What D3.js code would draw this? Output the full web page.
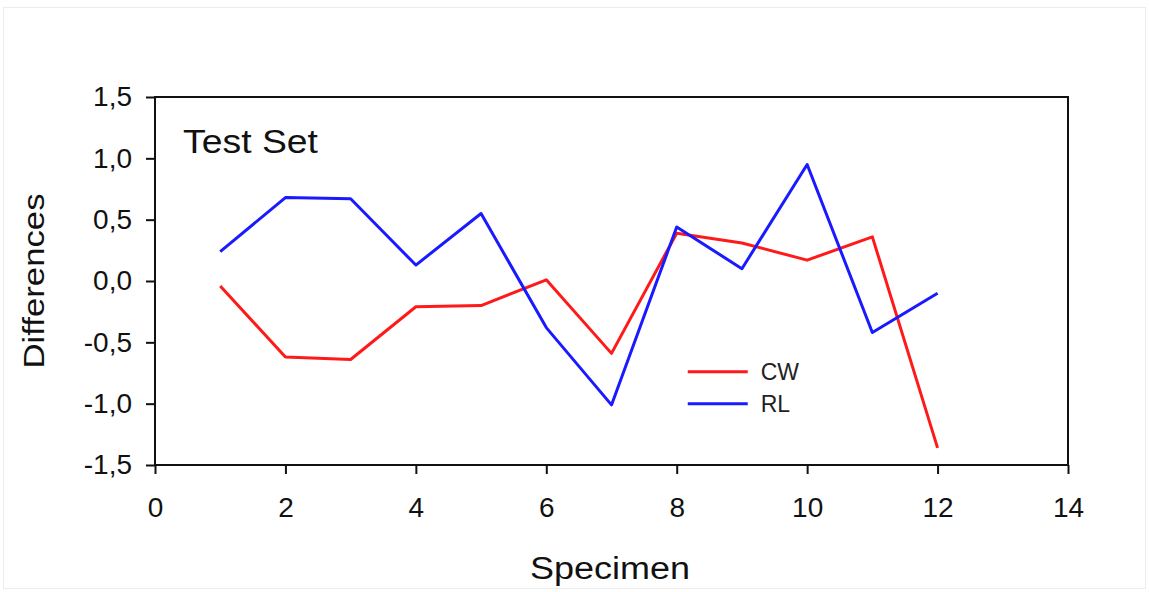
<!DOCTYPE html>
<html>
<head>
<meta charset="utf-8">
<script src="https://cdn.jsdelivr.net/npm/d3@7"></script>
<style>
  body { margin: 0; background: #fff; }
  svg text { font-family: "Liberation Sans", Arial, sans-serif; fill: #111; }
  .axis path, .axis line { stroke: #111; stroke-width: 2; }
</style>
</head>
<body>
<div id="chart"></div>
<script>
var specimens = [1, 2, 3, 4, 5, 6, 7, 8, 9, 10, 11, 12];
var cwValues = [-0.04, -0.62, -0.64, -0.21, -0.20, 0.01, -0.59, 0.39, 0.31, 0.17, 0.36, -1.36];
var rlValues = [0.24, 0.68, 0.67, 0.13, 0.55, -0.38, -1.01, 0.44, 0.10, 0.95, -0.42, -0.10];
var xTicks = [0, 2, 4, 6, 8, 10, 12, 14];
var yTicks = [-1.5, -1.0, -0.5, 0.0, 0.5, 1.0, 1.5];
var seriesNames = ["CW", "RL"];
var seriesColors = ["#ff1a1a", "#1a1aff"];

var width = 1149, height = 592;
var margin = {top: 97, right: 81, bottom: 127, left: 155};
var innerW = width - margin.left - margin.right,
    innerH = height - margin.top - margin.bottom;

var locale = d3.formatLocale({decimal: ",", thousands: ".", grouping: [3], currency: ["", ""], minus: "-"});
var fmt1 = locale.format(".1f");

var svg = d3.select("#chart").append("svg")
    .attr("width", width)
    .attr("height", height);

// faint border of the original picture
svg.append("rect")
    .attr("x", 3.5).attr("y", 7.5)
    .attr("width", width - 7).attr("height", height - 11)
    .attr("fill", "none")
    .attr("stroke", "#ececec");

var g = svg.append("g")
    .attr("transform", "translate(" + margin.left + "," + margin.top + ")");

var x = d3.scaleLinear().domain([0, 14]).range([0, innerW]);
var y = d3.scaleLinear().domain([-1.5, 1.5]).range([innerH, 0]);

// frame
g.append("rect")
    .attr("width", innerW).attr("height", innerH)
    .attr("fill", "none")
    .attr("stroke", "#111")
    .attr("stroke-width", 2);

var xAxis = g.append("g")
    .attr("class", "axis")
    .attr("transform", "translate(0," + innerH + ")")
    .call(d3.axisBottom(x).tickValues(xTicks).tickSize(9).tickPadding(23).tickSizeOuter(0));
xAxis.select(".domain").remove();
xAxis.selectAll("text").style("font-size", "28px");

var yAxis = g.append("g")
    .attr("class", "axis")
    .call(d3.axisLeft(y).tickValues(yTicks).tickSize(9).tickPadding(14).tickFormat(fmt1).tickSizeOuter(0));
yAxis.select(".domain").remove();
yAxis.selectAll("text").style("font-size", "28px");

var line = d3.line()
    .x(function(d) { return x(d[0]); })
    .y(function(d) { return y(d[1]); });

[cwValues, rlValues].forEach(function(vals, i) {
    g.append("path")
        .datum(d3.zip(specimens, vals))
        .attr("fill", "none")
        .attr("stroke", seriesColors[i])
        .attr("stroke-width", 3)
        .attr("stroke-linejoin", "round")
        .attr("d", line);
});

// label inside plot
g.append("text")
    .attr("x", 28)
    .attr("y", 56)
    .attr("textLength", 135)
    .attr("lengthAdjust", "spacingAndGlyphs")
    .style("font-size", "33px")
    .text("Test Set");

// legend
var legend = g.selectAll("g.legendEntry")
    .data(seriesNames)
    .enter().append("g")
    .attr("class", "legendEntry")
    .attr("transform", function(d, i) { return "translate(" + (x(8.2) - 2) + "," + (y(-0.74) + i * 32) + ")"; });

legend.append("line")
    .attr("x1", 0).attr("x2", 60)
    .attr("stroke", function(d, i) { return seriesColors[i]; })
    .attr("stroke-width", 3);

legend.append("text")
    .attr("x", 73)
    .attr("dy", "0.36em")
    .style("font-size", "23px")
    .style("fill", "#222")
    .text(function(d) { return d; });

// axis titles
svg.append("text")
    .attr("text-anchor", "middle")
    .attr("transform", "translate(44," + (margin.top + innerH / 2) + ") rotate(-90)")
    .attr("textLength", 175)
    .attr("lengthAdjust", "spacingAndGlyphs")
    .style("font-size", "30px")
    .text("Differences");

svg.append("text")
    .attr("text-anchor", "middle")
    .attr("x", 610)
    .attr("y", 579)
    .attr("textLength", 160)
    .attr("lengthAdjust", "spacingAndGlyphs")
    .style("font-size", "31px")
    .text("Specimen");
</script>
</body>
</html>
